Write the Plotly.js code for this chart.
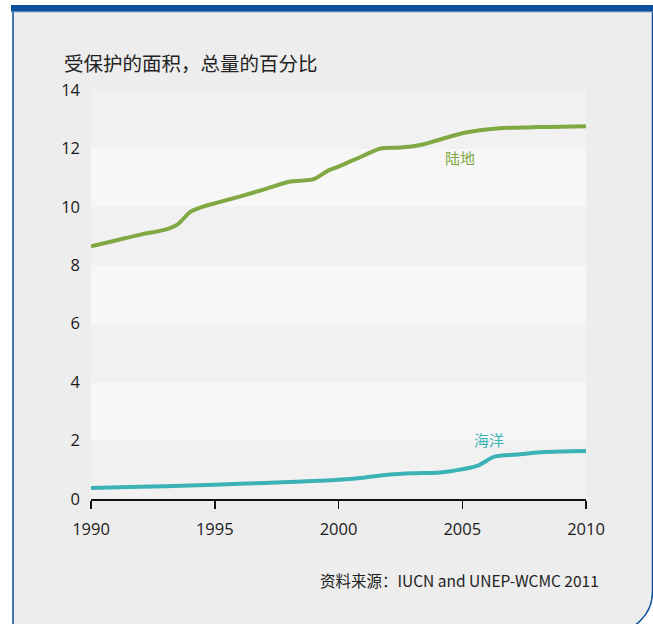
<!DOCTYPE html>
<html>
<head>
<meta charset="utf-8">
<script src="https://cdn.plot.ly/plotly-3.0.1.min.js"></script>
<style>html,body{margin:0;padding:0;background:#fff;}#chart{width:653px;height:624px;}</style>
</head>
<body>
<div id="chart"></div>
<script>
// ---- data ----
const landYears = [1990, 1991, 1992, 1993, 1993.5, 1994, 1994.5, 1995, 1996, 1997, 1998, 1999, 1999.6, 2000, 2001, 2001.7, 2002.5, 2003.3, 2004, 2005, 2006, 2007, 2008, 2009, 2010];
const landValues = [8.65, 8.85, 9.05, 9.22, 9.4, 9.82, 10.0, 10.12, 10.35, 10.6, 10.86, 10.95, 11.25, 11.38, 11.75, 12.0, 12.03, 12.12, 12.28, 12.52, 12.65, 12.71, 12.73, 12.74, 12.76];
const oceanYears = [1990, 1992, 1994, 1996, 1998, 2000, 2001, 2002, 2003, 2004, 2004.6, 2005.6, 2006.3, 2007.2, 2008.3, 2009, 2010];
const oceanValues = [0.38, 0.42, 0.46, 0.52, 0.58, 0.66, 0.73, 0.83, 0.88, 0.9, 0.96, 1.13, 1.45, 1.52, 1.61, 1.63, 1.64];
const xTicks = [1990, 1995, 2000, 2005, 2010];
const yTicks = [0, 2, 4, 6, 8, 10, 12, 14];
const seriesNames = ['陆地', '海洋'];
const titleText = '受保护的面积，总量的百分比';
const sourceText = '资料来源：IUCN and UNEP-WCMC 2011';

// ---- layout geometry ----
const W = 653, H = 624;
const M = {l: 91, r: 67, t: 90, b: 125};
const pw = W - M.l - M.r, ph = H - M.t - M.b;
const px = x => (x - M.l) / pw;
const py = y => (H - M.b - y) / ph;
const P = (x, y) => px(x).toFixed(5) + ',' + py(y).toFixed(5);

const green = '#80a843', teal = '#3ab2b6', blue = '#0b4f9c';
const font = '"Open Sans", "Noto Sans CJK SC", sans-serif';
const cjk = '"Noto Sans CJK SC", "Open Sans", sans-serif';

// frame with rounded bottom-right corner
const r = 40, k = 0.5523;
const R = 652.5, B = 632, L = 13, T = 11;
const framePath = 'M' + P(L, T) + ' L' + P(R, T) + ' L' + P(R, B - r) +
  ' C' + P(R, B - r + k * r) + ' ' + P(R - r + k * r, B) + ' ' + P(R - r, B) +
  ' L' + P(L, B) + ' Z';

const shapes = [
  {type: 'path', xref: 'paper', yref: 'paper', path: framePath, fillcolor: '#ededed',
   line: {color: blue, width: 1.5}, layer: 'below'},
  {type: 'rect', xref: 'paper', yref: 'paper', x0: px(11), x1: px(660), y0: py(5), y1: py(11),
   fillcolor: blue, line: {width: 0}, layer: 'below'},
  {type: 'rect', xref: 'paper', yref: 'paper', x0: px(11), x1: px(660), y0: py(11), y1: py(12.2),
   fillcolor: '#5a86bd', line: {width: 0}, layer: 'below'}
];
for (let i = 0; i < yTicks.length - 1; i++) {
  shapes.push({type: 'rect', xref: 'x', yref: 'y', x0: xTicks[0], x1: xTicks[xTicks.length - 1],
    y0: yTicks[i], y1: yTicks[i + 1], fillcolor: (i % 2 === 0) ? '#f1f1f1' : '#f7f7f7',
    line: {width: 0}, layer: 'below'});
}

const traces = [
  {x: landYears, y: landValues, name: seriesNames[0], type: 'scatter', mode: 'lines',
   line: {color: green, width: 4, shape: 'spline', smoothing: 0.8}, hoverinfo: 'skip'},
  {x: oceanYears, y: oceanValues, name: seriesNames[1], type: 'scatter', mode: 'lines',
   line: {color: teal, width: 4, shape: 'spline', smoothing: 0.8}, hoverinfo: 'skip'}
];

const layout = {
  width: W, height: H, margin: M, showlegend: false,
  paper_bgcolor: '#ffffff', plot_bgcolor: 'rgba(0,0,0,0)',
  font: {family: font, color: '#222', size: 16},
  xaxis: {range: [1990, 2010], tickvals: xTicks, ticktext: xTicks.map(String),
    showgrid: false, zeroline: false, showline: true, linecolor: '#111', linewidth: 1.5,
    ticks: 'outside', ticklen: 8, tickwidth: 1.5, tickcolor: '#111',
    ticklabelstandoff: 7,
    tickfont: {family: font, size: 16.5, color: '#1a1a1a'}, fixedrange: true},
  yaxis: {range: [0, 14], tickvals: yTicks, ticktext: yTicks.map(String),
    showgrid: false, zeroline: false, showline: false, ticks: '',
    ticklabelstandoff: 10,
    tickfont: {family: font, size: 16.5, color: '#1a1a1a'}, fixedrange: true},
  shapes: shapes,
  annotations: [
    {xref: 'paper', yref: 'paper', x: px(62), y: py(63), xanchor: 'left', yanchor: 'middle',
     text: titleText, showarrow: false, font: {family: cjk, size: 19.5, color: '#222'}},
    {xref: 'paper', yref: 'paper', x: px(601), y: py(580), xanchor: 'right', yanchor: 'middle',
     text: sourceText, showarrow: false, font: {family: cjk, size: 15.5, color: '#222'}},
    {xref: 'x', yref: 'y', x: 2004.9, y: 11.68, text: seriesNames[0], showarrow: false,
     font: {family: cjk, size: 15, color: green}},
    {xref: 'x', yref: 'y', x: 2006.1, y: 2.02, text: seriesNames[1], showarrow: false,
     font: {family: cjk, size: 15, color: teal}}
  ]
};

Plotly.newPlot('chart', traces, layout, {displayModeBar: false, staticPlot: true});
</script>
</body>
</html>
